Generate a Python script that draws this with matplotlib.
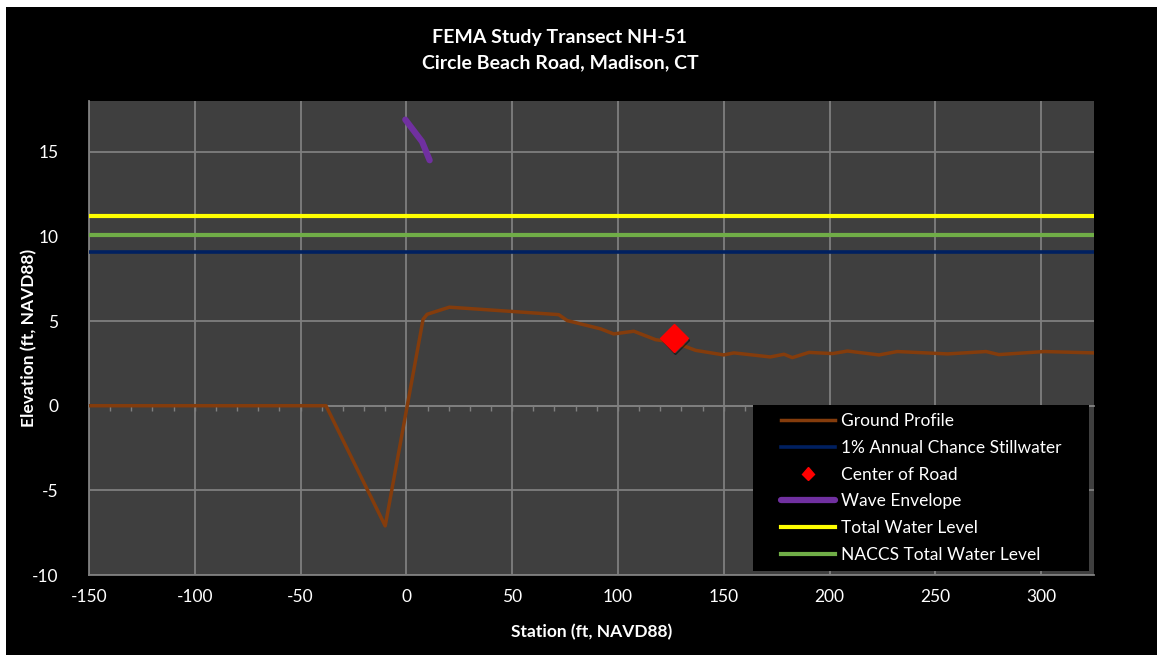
import numpy as np
import matplotlib
matplotlib.use("Agg")
from matplotlib import pyplot as plt
from matplotlib.patches import Rectangle
import matplotlib.patheffects as pe

# ground profile
station = [-150, -38, -10, 7.9, 9.8, 20.3, 72, 76, 91.8, 98, 107.5, 117.8, 126.5,
           136.7, 150, 154.8, 172, 178.5, 182.4, 190.3, 201.4, 208.5, 223.4, 232,
           255.8, 274, 280, 301.5, 325]
elevation = [0, 0, -7.1, 5.1, 5.4, 5.82, 5.38, 5.03, 4.54, 4.24, 4.4, 3.9, 3.75,
             3.27, 3.0, 3.12, 2.88, 3.04, 2.84, 3.15, 3.08, 3.23, 3.0, 3.2,
             3.06, 3.2, 3.02, 3.2, 3.12]

road_x = [126.5]
road_y = [4.0]

wave_x = [-0.5, 7.4, 11.0]
wave_y = [16.9, 15.6, 14.5]

x_range = [-150, 325]
stillwater = 9.1
total_wl = 11.2
naccs_wl = 10.1

FONT = ["Lato", "DejaVu Sans"]
GRID = "#7f7f7f"


def main():
    plt.rcParams["font.family"] = FONT
    plt.rcParams["axes.unicode_minus"] = False
    fig = plt.figure(figsize=(11.57, 6.55), dpi=100, facecolor="white")
    fig.patches.append(Rectangle((6 / 1157, 0), 1, 648 / 655, transform=fig.transFigure,
                                 facecolor="black", edgecolor="none", zorder=-5))
    ax = fig.add_axes([89 / 1157, 1 - 575 / 655, 1005 / 1157, 474 / 655])
    ax.set_facecolor("#3f3f3f")

    ax.plot(station, elevation, color="#843c0c", lw=2.5, label="Ground Profile", zorder=4)
    ax.plot(x_range, [stillwater] * 2, color="#002060", lw=2.6,
            label="1% Annual Chance Stillwater", zorder=3)
    ax.plot(road_x, road_y, ls="none", marker="D", ms=14, color="#ff0000",
            label="Center of Road", zorder=6,
            path_effects=[pe.SimpleLineShadow(offset=(1, -1.5), alpha=0.5), pe.Normal()])
    ax.plot(wave_x, wave_y, color="#7030a0", lw=4.5, solid_capstyle="round",
            label="Wave Envelope", zorder=5)
    ax.plot(x_range, [total_wl] * 2, color="#ffff00", lw=3, label="Total Water Level", zorder=3)
    ax.plot(x_range, [naccs_wl] * 2, color="#70ad47", lw=3,
            label="NACCS Total Water Level", zorder=3)

    ax.set_xlim(-150, 325)
    ax.set_ylim(-10, 18)
    ax.set_xticks(np.arange(-150, 301, 50))
    ax.set_yticks(np.arange(-10, 16, 5))
    ax.grid(True, color=GRID, lw=1.3)
    ax.set_axisbelow(True)
    ax.tick_params(colors="white", length=0, labelsize=12.5)
    ax.tick_params(axis="y", pad=22)
    ax.tick_params(axis="x", pad=10)
    for s in ["top", "right"]:
        ax.spines[s].set_visible(False)
    for s in ["left", "bottom"]:
        ax.spines[s].set_color(GRID)
        ax.spines[s].set_linewidth(1.3)

    # horizontal axis crossing at zero with small ticks
    sec = ax.secondary_xaxis(10 / 28)
    sec.set_xticks(np.arange(-140, 325, 10))
    sec.tick_params(direction="out", length=3.5, color=GRID, labelbottom=False, width=1)
    sec.spines["bottom"].set_color(GRID)
    sec.spines["bottom"].set_linewidth(1.3)

    ax.set_xlabel("Station (ft, NAVD88)", color="white", fontsize=12.5, fontweight="bold",
                  labelpad=14)
    ax.set_ylabel("Elevation (ft, NAVD88)", color="white", fontsize=12.5, fontweight="bold")
    ax.yaxis.set_label_coords(-0.051, 0.5)

    fig.text(560 / 1157, 1 - 37 / 655, "FEMA Study Transect NH-51", color="white",
             fontsize=14, fontweight="bold", ha="center", va="center")
    fig.text(560 / 1157, 1 - 63 / 655, "Circle Beach Road, Madison, CT", color="white",
             fontsize=14, fontweight="bold", ha="center", va="center")

    # legend box
    ax.add_patch(Rectangle((0.661, 0.008), 0.334, 0.351, transform=ax.transAxes,
                           facecolor="black", edgecolor="none", zorder=9))
    leg = ax.legend(loc="center", bbox_to_anchor=(0.661 + 0.167, 0.008 + 0.1755),
                    fontsize=12.5, frameon=False, labelcolor="white", markerscale=0.45,
                    handlelength=3.1, handletextpad=0.35, labelspacing=0.62)
    leg.set_zorder(10)

    fig.savefig("out.png", dpi=100, facecolor=fig.get_facecolor())


if __name__ == '__main__':
    main()
